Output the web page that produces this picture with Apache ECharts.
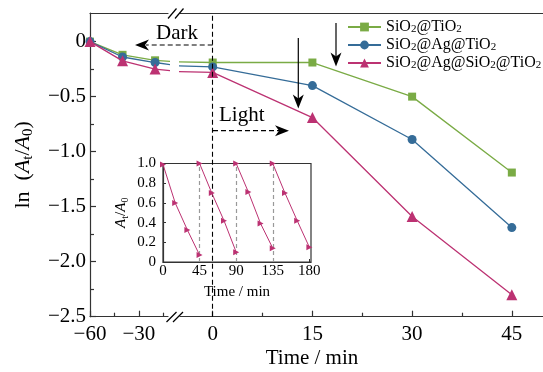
<!DOCTYPE html>
<html><head><meta charset="utf-8">
<script src="https://cdn.jsdelivr.net/npm/echarts@6/dist/echarts.min.js"></script>
<style>html,body{margin:0;padding:0;background:#fff}#c{width:543px;height:372px}</style>
</head><body><div id="c"></div>
<script>
// ---- data ----
const times = [-60, -40, -20, 0, 15, 30, 45];
const seriesNames = ['SiO2@TiO2', 'SiO2@Ag@TiO2', 'SiO2@Ag@SiO2@TiO2'];
const valGreen = [0, -0.12, -0.17, -0.19, -0.19, -0.50, -1.19];
const valBlue  = [0, -0.14, -0.19, -0.23, -0.40, -0.89, -1.69];
const valPink  = [0, -0.175, -0.25, -0.28, -0.69, -1.59, -2.30];
const yMajor = [0, -0.5, -1.0, -1.5, -2.0, -2.5];
const yMinor = [-0.25, -0.75, -1.25, -1.75, -2.25];
const xLeftMajor = [-60, -30];
const xLeftMinor = [-45, -15];
const xRightMajor = [0, 15, 30, 45];
const xRightMinor = [7.5, 22.5, 37.5];
const insetOffsets = [0, 15, 30, 45];
const cycleStarts = [0, 45, 90, 135];
const cycle1 = [0.99, 0.60, 0.325, 0.07];
const cycle2 = [1.00, 0.70, 0.42, 0.10];
const cycle3 = [1.00, 0.71, 0.39, 0.14];
const cycle4 = [1.00, 0.70, 0.42, 0.15];
const insetTicks = [0, 45, 90, 135, 180];
const insetDividers = [45, 90, 135];

// ---- style ----
const FONT = '"Liberation Serif", "Times New Roman", serif';
const C_GREEN = '#7aab45', C_BLUE = '#356c98', C_PINK = '#bc3272';
const AX = '#333';
const minus = v => (v < 0 ? '\u2212' + Math.abs(v) : String(v));
const minus1 = v => (v === 0 ? '0' : (v < 0 ? '\u2212' : '') + Math.abs(v).toFixed(1));

const Y_MIN = -2.5, Y_MAX = 0.26;
const L_MIN = -60, L_MAX = -12.06;
const R_MIN = -4.92, R_MAX = 49.69;

function xAx(grid, pos, min, max, opts) {
  return Object.assign({
    type: 'value', gridIndex: grid, position: pos, min: min, max: max,
    splitLine: { show: false },
    axisLine: { show: true, onZero: false, lineStyle: { color: AX, width: 1.2 } },
    axisTick: { show: false },
    axisLabel: { show: false }
  }, opts);
}
function yAx(grid, pos, min, max, opts) {
  return Object.assign({
    type: 'value', gridIndex: grid, position: pos, min: min, max: max,
    splitLine: { show: false },
    axisLine: { show: true, onZero: false, lineStyle: { color: AX, width: 1.2 } },
    axisTick: { show: false },
    axisLabel: { show: false }
  }, opts);
}
const tickMaj = vals => ({ show: true, inside: true, length: 6, customValues: vals, lineStyle: { color: AX, width: 1.2 } });
const tickMin = vals => ({ show: true, inside: true, length: 4, customValues: vals, lineStyle: { color: AX, width: 1.2 } });
const lbl = (vals, fmt, margin) => ({ show: true, customValues: vals, formatter: fmt, fontFamily: FONT, fontSize: 21, color: '#000', margin: margin });

const xAxes = [
  xAx(0, 'bottom', L_MIN, L_MAX, { axisTick: tickMaj(xLeftMajor), axisLabel: lbl(xLeftMajor, minus, 7) }),
  xAx(0, 'top', L_MIN, L_MAX, {}),
  xAx(0, 'bottom', L_MIN, L_MAX, { axisLine: { show: false, onZero: false }, axisTick: tickMin(xLeftMinor) }),
  xAx(1, 'bottom', R_MIN, R_MAX, { axisTick: tickMaj(xRightMajor), axisLabel: lbl(xRightMajor, minus, 7) }),
  xAx(1, 'top', R_MIN, R_MAX, {}),
  xAx(1, 'bottom', R_MIN, R_MAX, { axisLine: { show: false, onZero: false }, axisTick: tickMin(xRightMinor) }),
  xAx(2, 'bottom', 0, 182, {
    z: 4,
    axisTick: { show: true, inside: true, length: 3, customValues: insetTicks, lineStyle: { color: AX } },
    axisLabel: { show: true, customValues: insetTicks, fontFamily: FONT, fontSize: 15, color: '#000', margin: 2 },
    axisLine: { show: true, onZero: false, lineStyle: { color: AX, width: 1.2 } },
    name: 'Time / min', nameLocation: 'middle', nameGap: 23,
    nameTextStyle: { fontFamily: FONT, fontSize: 15, color: '#000' }
  })
];
const yAxes = [
  yAx(0, 'left', Y_MIN, Y_MAX, {
    axisTick: tickMaj(yMajor), axisLabel: lbl(yMajor, minus1, 4),
    name: 'ln  ({i|A}{s|t}/{i|A}{s|0})', nameLocation: 'middle', nameGap: 54,
    nameTextStyle: {
      fontFamily: FONT, fontSize: 22, color: '#000', lineHeight: 26,
      rich: {
        i: { fontFamily: FONT, fontSize: 22, fontStyle: 'italic', color: '#000', lineHeight: 26 },
        s: { fontFamily: FONT, fontSize: 15, color: '#000', lineHeight: 13, verticalAlign: 'bottom' }
      }
    }
  }),
  yAx(0, 'left', Y_MIN, Y_MAX, { axisLine: { show: false, onZero: false }, axisTick: tickMin(yMinor) }),
  yAx(1, 'left', Y_MIN, Y_MAX, { show: false }),
  yAx(2, 'left', 0, 1, {
    z: 4, interval: 0.2,
    axisTick: { show: true, inside: true, length: 3, lineStyle: { color: AX } },
    axisLabel: { show: true, fontFamily: FONT, fontSize: 15, color: '#000', margin: 7,
      formatter: v => (v === 0 ? '0' : v.toFixed(1)) },
    axisLine: { show: true, onZero: false, lineStyle: { color: AX, width: 1.2 } },
    name: '{i|A}{s|t}/{i|A}{s|0}', nameLocation: 'middle', nameGap: 33,
    nameTextStyle: {
      fontFamily: FONT, fontSize: 15, color: '#000', lineHeight: 18,
      rich: {
        i: { fontFamily: FONT, fontSize: 15, fontStyle: 'italic', color: '#000', lineHeight: 18 },
        s: { fontFamily: FONT, fontSize: 10, color: '#000', lineHeight: 9, verticalAlign: 'bottom' }
      }
    }
  })
];

const mainVals = [valGreen, valBlue, valPink];
const mainColors = [C_GREEN, C_BLUE, C_PINK];
const mainSymbols = ['rect', 'circle', 'triangle'];
const mainSizes = [8, 9, 11];
const series = [];
[[0, 0], [3, 2]].forEach(([xi, yi], side) => {
  mainVals.forEach((vals, k) => {
    const s = {
      type: 'line', name: seriesNames[k], xAxisIndex: xi, yAxisIndex: yi,
      data: times.map((t, i) => [t, vals[i]]),
      clip: true, symbol: mainSymbols[k], symbolSize: mainSizes[k],
      color: mainColors[k],
      lineStyle: { color: mainColors[k], width: 1.3 },
      itemStyle: { color: mainColors[k] },
      z: 2 + k * 0.1
    };
    if (side === 1 && k === 0) {
      s.markLine = {
        silent: true, symbol: 'none', animation: false,
        label: { show: false },
        lineStyle: { color: '#000', type: [5, 3], width: 1.1 },
        data: [{ xAxis: 0 }]
      };
    }
    series.push(s);
  });
});
[cycle1, cycle2, cycle3, cycle4].forEach((cyc, c) => {
  const s = {
    type: 'line', name: 'cycle' + (c + 1), xAxisIndex: 6, yAxisIndex: 3, z: 5,
    data: insetOffsets.map((o, i) => [cycleStarts[c] + o, cyc[i]]),
    symbol: 'triangle', symbolSize: 6, symbolRotate: -90,
    lineStyle: { color: C_PINK, width: 1 }, itemStyle: { color: C_PINK }
  };
  if (c === 0) {
    s.markLine = {
      silent: true, symbol: 'none', animation: false, label: { show: false },
      lineStyle: { color: '#999', type: [4, 3], width: 1.2 },
      data: insetDividers.map(v => ({ xAxis: v }))
    };
  }
  series.push(s);
});

const ln = (x1, y1, x2, y2, dash) => ({
  type: 'line', z: 20, silent: true,
  shape: { x1, y1, x2, y2 },
  style: { stroke: '#000', lineWidth: 1.2, lineDash: dash || null }
});
const poly = pts => ({ type: 'polygon', z: 20, silent: true, shape: { points: pts }, style: { fill: '#000' } });
const txt = (x, y, text, size, align) => ({
  type: 'text', z: 20, silent: true, x, y,
  style: { text, fontFamily: FONT, fontSize: size, fill: '#000', align: align || 'center', verticalAlign: 'middle' }
});

const graphic = [
  txt(177, 33, 'Dark', 21),
  ln(212.7, 45, 146, 45, [5, 3]),
  poly([[135, 45], [149, 39.5], [145, 45], [149, 50.5]]),
  txt(219, 115, 'Light', 21, 'left'),
  ln(213, 130.7, 279, 130.7, [5, 3]),
  poly([[289, 130.7], [275, 125.2], [279, 130.7], [275, 136.2]]),
  ln(298.3, 38, 298.3, 100),
  poly([[298.3, 108.5], [292.8, 94.5], [298.3, 98.5], [303.8, 94.5]]),
  ln(336, 23, 336, 58),
  poly([[336, 66.5], [330.5, 52.5], [336, 56.5], [341.5, 52.5]]),
  // axis break marks
  ln(168, 18.5, 176.5, 8.5), ln(175, 18.5, 183.5, 8.5),
  ln(166.5, 322, 176.5, 312), ln(173, 322, 183, 312),
  txt(312, 358, 'Time / min', 21)
];

const chart = echarts.init(document.getElementById('c'), null, { renderer: 'canvas' });
chart.setOption({
  animation: false,
  backgroundColor: '#fff',
  grid: [
    { left: 90, top: 13, width: 78, bottom: 55.3 },
    { left: 180, top: 13, right: 0, bottom: 55.3 },
    { left: 163, top: 163.5, width: 148, height: 98.5, show: true, z: 3,
      backgroundColor: '#fff', borderColor: AX, borderWidth: 1.2 }
  ],
  xAxis: xAxes,
  yAxis: yAxes,
  legend: {
    data: seriesNames, orient: 'vertical', left: 347, top: 19, padding: 0,
    itemWidth: 33, itemHeight: 11, itemGap: 2,
    formatter: name => name.replace(/2/g, '{s|2}'),
    textStyle: {
      fontFamily: FONT, fontSize: 16, color: '#000', lineHeight: 16,
      rich: { s: { fontFamily: FONT, fontSize: 11, color: '#000', lineHeight: 10, verticalAlign: 'bottom' } }
    }
  },
  series: series,
  graphic: graphic
});
</script></body></html>
